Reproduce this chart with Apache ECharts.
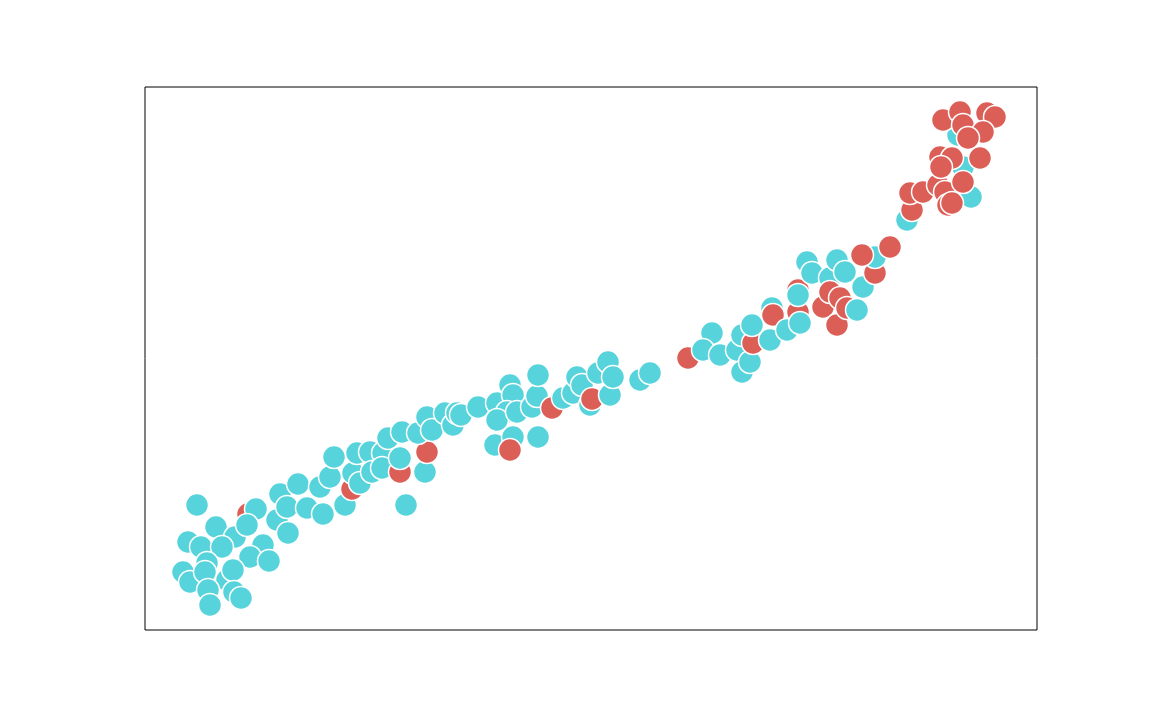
<!DOCTYPE html>
<html>
<head>
<meta charset="utf-8">
<script src="https://cdn.jsdelivr.net/npm/echarts@6/dist/echarts.min.js"></script>
<style>
  html, body { margin: 0; padding: 0; background: #fff; }
  #chart { width: 1152px; height: 720px; }
</style>
</head>
<body>
<div id="chart"></div>
<script>
// point coordinates (arbitrary units), group 0 = cyan, 1 = red
const xs = [
  52, 103, 111, 71, 43, 90, 56, 77, 102, 132, 118, 105, 124, 143, 38, 45, 62, 60, 82, 88,
  63, 65, 89, 96, 135, 153, 142, 162, 178, 175, 185, 189, 200, 207, 208, 215, 212, 225, 227, 238,
  237, 243, 255, 255, 257, 261, 280, 282, 273, 282, 287, 300, 308, 312, 316, 333, 352, 365, 368, 362,
  352, 372, 387, 392, 393, 350, 368, 365, 393, 407, 418, 428, 432, 437, 445, 447, 453, 463, 465, 468,
  495, 505, 543, 567, 558, 575, 592, 597, 605, 597, 608, 607, 625, 627, 628, 642, 653, 655, 653, 653,
  662, 667, 685, 692, 700, 678, 685, 695, 692, 702, 712, 718, 730, 730, 717, 745,
  762, 826, 818, 813, 767, 765, 778, 793, 800, 803, 818, 795, 807, 835, 798, 815, 818, 842, 850, 838,
  823, 796, 807
];
const ys = [
  125, 116, 121, 103, 88, 93, 83, 83, 105, 110, 85, 73, 69, 97, 58, 48, 67, 58, 50, 60,
  40, 25, 38, 32, 136, 146, 123, 122, 116, 143, 153, 173, 125, 141, 157, 147, 177, 178, 158, 177,
  162, 192, 158, 172, 198, 125, 158, 178, 197, 213, 200, 217, 205, 217, 215, 223, 227, 245, 235, 218,
  210, 218, 223, 234, 255, 185, 193, 180, 193, 222, 232, 237, 253, 245, 225, 231, 257, 268, 235, 253,
  250, 257, 272, 297, 280, 275, 280, 258, 268, 295, 287, 305, 290, 322, 315, 300, 318, 307, 340, 335,
  368, 357, 352, 370, 358, 323, 338, 332, 305, 322, 320, 343, 357, 373, 375, 383,
  410, 433, 463, 495, 420, 437, 438, 445, 438, 425, 448, 473, 472, 472, 510, 518, 505, 517, 513, 498,
  492, 463, 427
];
const groups = [
  0, 1, 0, 0, 0, 0, 0, 0, 0, 0, 0, 0, 0, 0, 0, 0, 0, 0, 0, 0,
  0, 0, 0, 0, 0, 0, 0, 0, 0, 0, 0, 0, 0, 1, 0, 0, 0, 0, 0, 0,
  0, 0, 1, 0, 0, 0, 0, 1, 0, 0, 0, 0, 0, 0, 0, 0, 0, 0, 0, 0,
  0, 0, 0, 0, 0, 0, 0, 1, 0, 1, 0, 0, 0, 0, 0, 1, 0, 0, 0, 0,
  0, 0, 1, 0, 0, 0, 0, 0, 0, 0, 1, 0, 0, 0, 1, 0, 1, 0, 1, 0,
  0, 0, 0, 0, 0, 1, 1, 1, 1, 1, 0, 0, 1, 0, 1, 1,
  0, 0, 0, 0, 1, 1, 1, 1, 1, 1, 1, 1, 1, 1, 1, 1, 1, 1, 1, 1,
  1, 1, 1
];
const colors = ['#57d3db', '#db5f57'];

const points = xs.map((x, i) => ({
  value: [x, ys[i]],
  itemStyle: { color: colors[groups[i]] }
}));

const chart = echarts.init(document.getElementById('chart'));

const hiddenAxis = {
  axisLine: { show: false },
  axisTick: { show: false },
  axisLabel: { show: false },
  splitLine: { show: false }
};

chart.setOption({
  animation: false,
  backgroundColor: '#fff',
  grid: {
    left: 145, top: 87, width: 892, height: 543,
    show: true, borderColor: '#000', borderWidth: 1, backgroundColor: 'transparent'
  },
  xAxis: { type: 'value', min: 0, max: 892, ...hiddenAxis },
  yAxis: { type: 'value', min: 0, max: 543, ...hiddenAxis },
  series: [{
    type: 'scatter',
    data: points,
    symbolSize: 23,
    itemStyle: { borderColor: '#fff', borderWidth: 1.5, opacity: 1 }
  }]
});
</script>
</body>
</html>
